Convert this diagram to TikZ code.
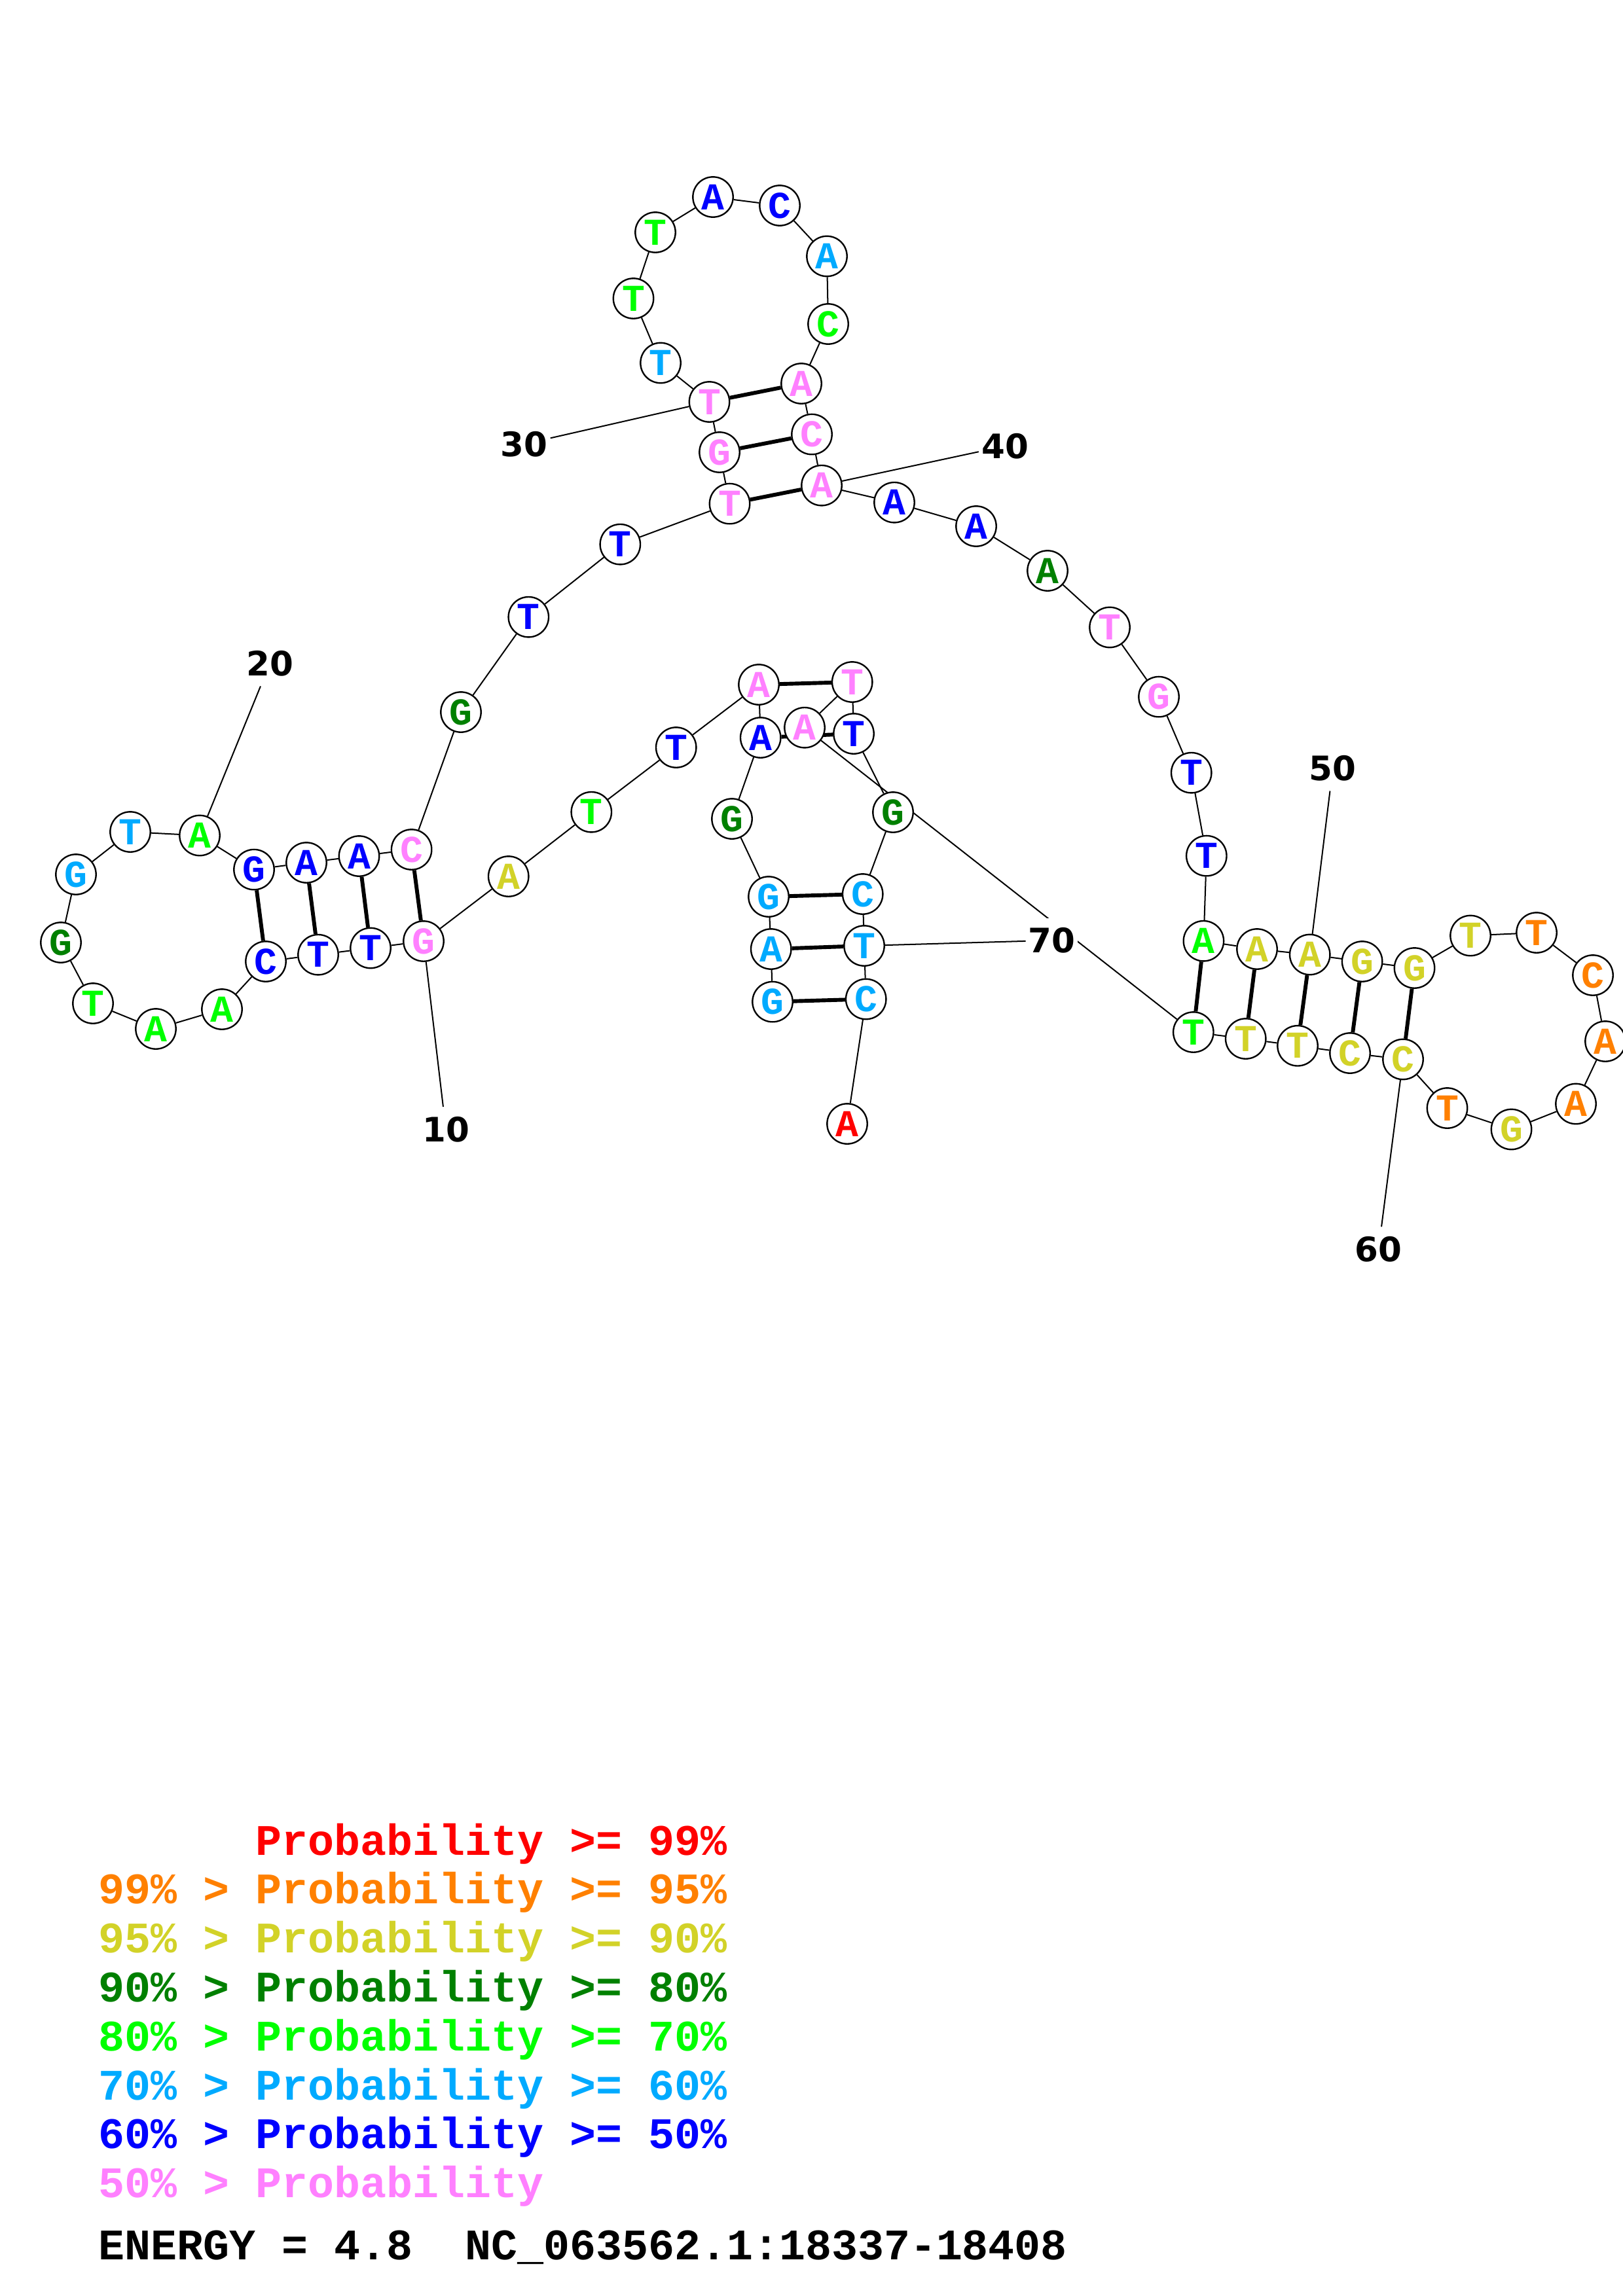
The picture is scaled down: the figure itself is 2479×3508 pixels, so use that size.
\documentclass[tikz,border=0pt]{standalone}
\usepackage{fontspec}
\newfontfamily\monofam{Liberation Mono}
\newfontfamily\numfam{DejaVu Sans}
\pgfdeclarelayer{bg}
\pgfsetlayers{bg,main}
\definecolor{cred}{RGB}{255,0,0}
\definecolor{corange}{RGB}{255,128,0}
\definecolor{cyellow}{RGB}{210,210,40}
\definecolor{cdkgreen}{RGB}{0,128,0}
\definecolor{cgreen}{RGB}{0,255,0}
\definecolor{clblue}{RGB}{0,170,255}
\definecolor{cblue}{RGB}{0,0,255}
\definecolor{cpink}{RGB}{255,128,255}
\begin{document}
\begin{tikzpicture}[x=0.084667mm,y=-0.084667mm,
  nt/.style={circle,draw=black,line width=0.2mm,fill=white,minimum size=5.2mm,inner sep=0pt,text=#1,font=\monofam\bfseries\fontsize{14pt}{14pt}\selectfont},
  bb/.style={line width=0.17mm},
  bp/.style={line width=0.5mm},
  lbl/.style={fill=white,inner xsep=0.3mm,inner ysep=1.2mm,font=\numfam\bfseries\fontsize{12.4pt}{14pt}\selectfont},
  ll/.style={line width=0.17mm},
  leg/.style={anchor=base west,inner sep=0pt,font=\monofam\bfseries\fontsize{16.05pt}{18pt}\selectfont}]
\useasboundingbox (0,0) rectangle (2479,3508);
% nucleotides
\node[nt=clblue]   (n1)  at (1180,1530.6) {G};
\node[nt=clblue]   (n2)  at (1177.7,1450) {A};
\node[nt=clblue]   (n3)  at (1174,1370) {G};
\node[nt=cdkgreen] (n4)  at (1118,1251) {G};
\node[nt=cblue]    (n5)  at (1161.7,1127) {A};
\node[nt=cpink]    (n6)  at (1159,1046) {A};
\node[nt=cblue]    (n7)  at (1032.7,1142) {T};
\node[nt=cgreen]   (n8)  at (903.3,1240.7) {T};
\node[nt=cyellow]  (n9)  at (776.7,1339) {A};
\node[nt=cpink]    (n10) at (647,1438) {G};
\node[nt=cblue]    (n11) at (566,1448.5) {T};
\node[nt=cblue]    (n12) at (486,1458.7) {T};
\node[nt=cblue]    (n13) at (406,1469) {C};
\node[nt=cgreen]   (n14) at (339,1542) {A};
\node[nt=cgreen]   (n15) at (238,1572) {A};
\node[nt=cgreen]   (n16) at (142,1533) {T};
\node[nt=cdkgreen] (n17) at (93,1440) {G};
\node[nt=clblue]   (n18) at (116,1336) {G};
\node[nt=clblue]   (n19) at (199,1271) {T};
\node[nt=cgreen]   (n20) at (305,1276.5) {A};
\node[nt=cblue]    (n21) at (388,1328.6) {G};
\node[nt=cblue]    (n22) at (468,1318) {A};
\node[nt=cblue]    (n23) at (548.5,1308) {A};
\node[nt=cpink]    (n24) at (628.6,1298) {C};
\node[nt=cdkgreen] (n25) at (704,1088) {G};
\node[nt=cblue]    (n26) at (807.3,942.7) {T};
\node[nt=cblue]    (n27) at (947.3,831.7) {T};
\node[nt=cpink]    (n28) at (1114.5,769.6) {T};
\node[nt=cpink]    (n29) at (1099,691) {G};
\node[nt=cpink]    (n30) at (1083.5,614) {T};
\node[nt=clblue]   (n31) at (1009,554.5) {T};
\node[nt=cgreen]   (n32) at (967.5,456) {T};
\node[nt=cgreen]   (n33) at (1001,355) {T};
\node[nt=cblue]    (n34) at (1089,301) {A};
\node[nt=cblue]    (n35) at (1191,314) {C};
\node[nt=clblue]   (n36) at (1263,391.5) {A};
\node[nt=cgreen]   (n37) at (1265,495) {C};
\node[nt=cpink]    (n38) at (1224,586) {A};
\node[nt=cpink]    (n39) at (1240,663.6) {C};
\node[nt=cpink]    (n40) at (1255,741.7) {A};
\node[nt=cblue]    (n41) at (1366,767.7) {A};
\node[nt=cblue]    (n42) at (1491,804) {A};
\node[nt=cdkgreen] (n43) at (1600,872) {A};
\node[nt=cpink]    (n44) at (1695,958.5) {T};
\node[nt=cpink]    (n45) at (1770,1064.6) {G};
\node[nt=cblue]    (n46) at (1819.7,1180.7) {T};
\node[nt=cblue]    (n47) at (1842.8,1307.6) {T};
\node[nt=cgreen]   (n48) at (1838.4,1437.7) {A};
\node[nt=cyellow]  (n49) at (1920,1450) {A};
\node[nt=cyellow]  (n50) at (2000.7,1458.5) {A};
\node[nt=cyellow]  (n51) at (2080.6,1469) {G};
\node[nt=cyellow]  (n52) at (2160.5,1479) {G};
\node[nt=cyellow]  (n53) at (2246,1429.5) {T};
\node[nt=corange]  (n54) at (2347,1425) {T};
\node[nt=corange]  (n55) at (2433,1490) {C};
\node[nt=corange]  (n56) at (2452,1591) {A};
\node[nt=corange]  (n57) at (2407,1686.5) {A};
\node[nt=cyellow]  (n58) at (2308.5,1725.5) {G};
\node[nt=corange]  (n59) at (2210.5,1693) {T};
\node[nt=cyellow]  (n60) at (2143,1618.5) {C};
\node[nt=cyellow]  (n61) at (2062,1609) {C};
\node[nt=cyellow]  (n62) at (1982,1597.8) {T};
\node[nt=cyellow]  (n63) at (1902.7,1587) {T};
\node[nt=cgreen]   (n64) at (1822.8,1577) {T};
\node[nt=cpink]    (n65) at (1229,1111.7) {A};
\node[nt=cpink]    (n66) at (1301.7,1042) {T};
\node[nt=cblue]    (n67) at (1304,1121) {T};
\node[nt=cdkgreen] (n68) at (1364,1241) {G};
\node[nt=clblue]   (n69) at (1317.7,1366) {C};
\node[nt=clblue]   (n70) at (1320,1445) {T};
\node[nt=clblue]   (n71) at (1322.7,1526.5) {C};
\node[nt=cred]     (n72) at (1294,1717) {A};
% position labels
\node[lbl] (l10) at (681,1725.5) {10};
\node[lbl] (l20) at (412,1014) {20};
\node[lbl] (l30) at (800.5,678.5) {30};
\node[lbl] (l40) at (1535,681.6) {40};
\node[lbl] (l50) at (2035.7,1174) {50};
\node[lbl] (l60) at (2105.6,1908.7) {60};
\node[lbl] (l70) at (1606.7,1436.7) {70};
\begin{pgfonlayer}{bg}
  \foreach \i [evaluate=\i as \j using int(\i+1)] in {1,...,71}
    \draw[bb] (n\i) -- (n\j);
  \foreach \a/\b in {1/71,2/70,3/69,5/67,6/66,10/24,11/23,12/22,13/21,28/40,29/39,30/38,48/64,49/63,50/62,51/61,52/60}
    \draw[bp] (n\a) -- (n\b);
  \foreach \k in {10,20,30,40,50,60,70}
    \draw[ll] (n\k) -- (l\k);
\end{pgfonlayer}
% legend
\node[leg,text=cred]     (g1) at (150,2834) {\phantom{99\% > }Probability >= 99\%};
\node[leg,text=corange]  (g2) at (150,2908.8) {99\% > Probability >= 95\%};
\node[leg,text=cyellow]  (g3) at (150,2983.6) {95\% > Probability >= 90\%};
\node[leg,text=cdkgreen] (g4) at (150,3058.4) {90\% > Probability >= 80\%};
\node[leg,text=cgreen]   (g5) at (150,3133.2) {80\% > Probability >= 70\%};
\node[leg,text=clblue]   (g6) at (150,3208) {70\% > Probability >= 60\%};
\node[leg,text=cblue]    (g7) at (150,3282.8) {60\% > Probability >= 50\%};
\node[leg,text=cpink]    (g8) at (150,3357.6) {50\% > Probability};
\node[leg,text=black]    (g9) at (150,3452) {ENERGY = 4.8\ \ NC\_063562.1:18337-18408};
\end{tikzpicture}
\end{document}
